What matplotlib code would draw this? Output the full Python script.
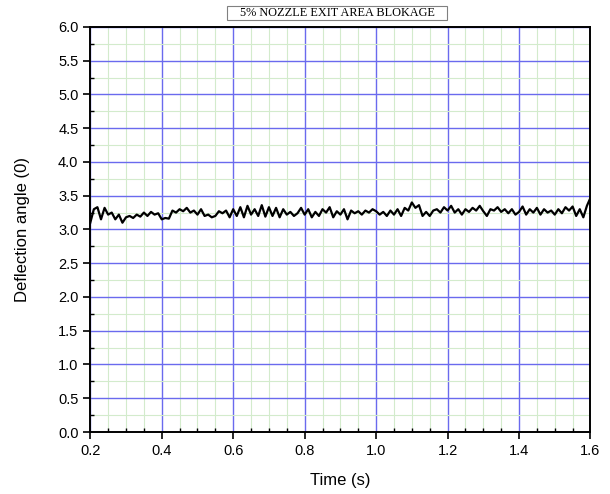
import matplotlib
matplotlib.use("Agg")
import matplotlib.pyplot as plt
import numpy as np
from matplotlib.patches import Rectangle
from matplotlib.ticker import MultipleLocator, FixedLocator

# time in seconds, 0.01 s steps
time_s = np.round(np.arange(0.20, 1.6001, 0.01), 2)

# deflection angle
angle = [
    3.10, 3.30, 3.33, 3.15, 3.32, 3.22, 3.25, 3.15, 3.22, 3.10,
    3.18, 3.20, 3.17, 3.22, 3.19, 3.25, 3.20, 3.26, 3.22, 3.24,
    3.15, 3.17, 3.16, 3.28, 3.25, 3.30, 3.27, 3.32, 3.25, 3.28,
    3.22, 3.30, 3.20, 3.22, 3.18, 3.20, 3.27, 3.24, 3.28, 3.18,
    3.30, 3.20, 3.33, 3.18, 3.35, 3.22, 3.30, 3.20, 3.36, 3.19,
    3.33, 3.20, 3.32, 3.18, 3.30, 3.22, 3.26, 3.20, 3.24, 3.32,
    3.22, 3.30, 3.18, 3.26, 3.20, 3.30, 3.25, 3.33, 3.18, 3.27,
    3.22, 3.30, 3.15, 3.28, 3.24, 3.27, 3.22, 3.28, 3.25, 3.30,
    3.27, 3.22, 3.26, 3.20, 3.28, 3.22, 3.30, 3.20, 3.32, 3.28,
    3.40, 3.32, 3.36, 3.20, 3.26, 3.20, 3.28, 3.30, 3.25, 3.33,
    3.28, 3.35, 3.25, 3.30, 3.22, 3.30, 3.26, 3.32, 3.28, 3.35,
    3.27, 3.20, 3.30, 3.28, 3.33, 3.26, 3.30, 3.24, 3.30, 3.22,
    3.26, 3.34, 3.22, 3.30, 3.25, 3.32, 3.22, 3.30, 3.25, 3.28,
    3.22, 3.30, 3.24, 3.33, 3.28, 3.34, 3.20, 3.30, 3.18, 3.35,
    3.47,
]

title = "5% NOZZLE EXIT AREA BLOKAGE"
x_label = "Time (s)"
y_label = "Deflection angle (0)"

plt.rcParams['font.family'] = ['Liberation Sans', 'DejaVu Sans']

fig = plt.figure(figsize=(6.1, 4.94), dpi=100)
ax = fig.add_axes([0.148, 0.1255, 0.820, 0.820])

ax.plot(time_s, angle, color="black", lw=1.6, zorder=3)

ax.set_xlim(0.2, 1.6)
ax.set_ylim(0.0, 6.0)
ax.xaxis.set_major_locator(MultipleLocator(0.2))
ax.yaxis.set_major_locator(MultipleLocator(0.5))
# minor positions that skip the major ones
x_minor = [v for v in np.round(np.arange(0.2, 1.6001, 0.05), 2) if round(v * 100) % 20]
y_minor = [v for v in np.arange(0.25, 6.0, 0.5)]
ax.xaxis.set_minor_locator(FixedLocator(x_minor))
ax.yaxis.set_minor_locator(FixedLocator(y_minor))
ax.xaxis.set_major_formatter(plt.FormatStrFormatter('%.1f'))
ax.yaxis.set_major_formatter(plt.FormatStrFormatter('%.1f'))

ax.grid(which="minor", color="#d3ebcc", lw=0.8)
ax.grid(which="major", color="#6a6aee", lw=1.0)
ax.set_axisbelow(True)

for s in ax.spines.values():
    s.set_linewidth(1.4)
ax.tick_params(which="major", direction="out", length=5, width=1.2, labelsize=10.5)
ax.tick_params(which="minor", direction="in", length=3, width=1)

ax.set_xlabel(x_label, fontsize=12, labelpad=11)
ax.set_ylabel(y_label, fontsize=12, labelpad=20)

# boxed caption above the plot
fig.patches.append(Rectangle((0.372, 0.960), 0.361, 0.027, transform=fig.transFigure,
                             fc="white", ec="#808080", lw=0.8))
fig.text(0.5525, 0.9735, title, ha="center", va="center", fontsize=8.8,
         family="Liberation Serif")

fig.savefig("out.png", dpi=100)
